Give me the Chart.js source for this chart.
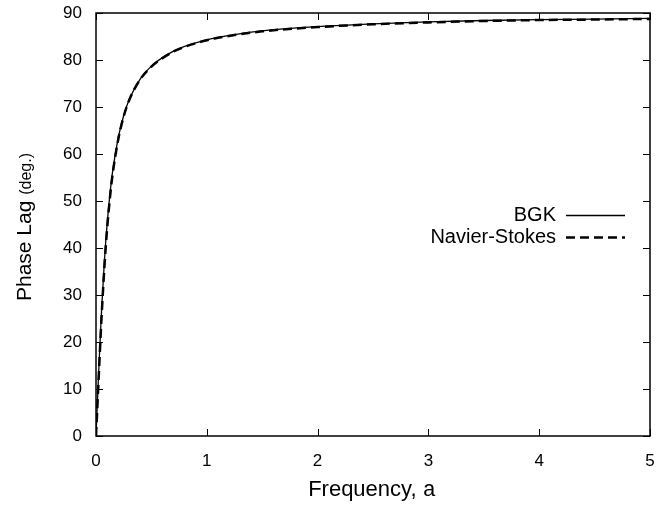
<!DOCTYPE html>
<html>
<head>
<meta charset="UTF-8">
<title>Phase Lag</title>
<script src="https://cdn.jsdelivr.net/npm/chart.js"></script>
<style>
  html, body { margin: 0; padding: 0; background: #fff; }
  #wrap { width: 656px; height: 508px; }
</style>
</head>
<body>
<div id="wrap"><canvas id="myChart"></canvas></div>
<script>
// valores
const frequencia = [0, 0.01, 0.02, 0.03, 0.05, 0.075, 0.1, 0.125, 0.15, 0.2, 0.25, 0.3, 0.4, 0.5, 0.6, 0.7, 0.8, 1.0, 1.25, 1.5, 2, 2.5, 3, 3.5, 4, 4.5, 5];
const faseBGK = [0, 5.7, 11.3, 16.7, 26.6, 36.9, 45, 51.3, 56.3, 63.4, 68.2, 71.6, 76, 78.7, 80.5, 81.9, 82.9, 84.3, 85.4, 86.2, 87.1, 87.7, 88.1, 88.4, 88.6, 88.7, 88.85];
const faseNS = [0, 5.0, 10.2, 15.4, 25.2, 35.6, 44, 50.5, 55.7, 63.0, 68.0, 71.5, 75.9, 78.6, 80.4, 81.8, 82.8, 84.2, 85.3, 86.1, 87.0, 87.6, 88.0, 88.3, 88.5, 88.6, 88.75];
const xTicks = [0, 1, 2, 3, 4, 5];
const yTicks = [0, 10, 20, 30, 40, 50, 60, 70, 80, 90];
const nomes = ['BGK', 'Navier-Stokes'];

const fonte = '"Liberation Sans", Arial, Helvetica, sans-serif';
const mono = '"Liberation Mono", "DejaVu Sans Mono", monospace';

function pontos(ys) {
    return frequencia.map((x, i) => ({ x: x, y: ys[i] }));
}

// moldura, ticks para dentro, titulos dos eixos e legenda
const extras = {
    id: 'extras',
    afterDraw(chart) {
        const ctx = chart.ctx;
        const a = chart.chartArea;
        const sx = chart.scales.x, sy = chart.scales.y;
        ctx.save();
        ctx.strokeStyle = '#000';
        ctx.lineWidth = 1.5;
        ctx.strokeRect(a.left, a.top, a.right - a.left, a.bottom - a.top);
        ctx.lineWidth = 1;
        ctx.beginPath();
        xTicks.forEach(v => {
            const p = Math.round(sx.getPixelForValue(v)) + 0.5;
            ctx.moveTo(p, a.bottom); ctx.lineTo(p, a.bottom - 7);
            ctx.moveTo(p, a.top); ctx.lineTo(p, a.top + 7);
        });
        yTicks.forEach(v => {
            const p = Math.round(sy.getPixelForValue(v)) + 0.5;
            ctx.moveTo(a.left, p); ctx.lineTo(a.left + 7, p);
            ctx.moveTo(a.right, p); ctx.lineTo(a.right - 7, p);
        });
        ctx.stroke();

        // titulo eixo x
        ctx.fillStyle = '#000';
        ctx.textBaseline = 'alphabetic';
        ctx.textAlign = 'left';
        const t1 = 'Frequency, ';
        ctx.font = '22px ' + fonte;
        const w1 = ctx.measureText(t1).width;
        ctx.font = '22px ' + mono;
        const w2 = ctx.measureText('a').width;
        const x0 = 372 - (w1 + w2) / 2;
        ctx.font = '22px ' + fonte;
        ctx.fillText(t1, x0, 496);
        ctx.font = '22px ' + mono;
        ctx.fillText('a', x0 + w1, 496);

        // titulo eixo y
        ctx.translate(31, 227);
        ctx.rotate(-Math.PI / 2);
        ctx.font = '21px ' + fonte;
        const p1 = 'Phase Lag ';
        const q1 = ctx.measureText(p1).width;
        ctx.font = '16px ' + fonte;
        const q2 = ctx.measureText('(deg.)').width;
        const y0 = -(q1 + q2) / 2;
        ctx.font = '21px ' + fonte;
        ctx.fillText(p1, y0, 0);
        ctx.font = '16px ' + fonte;
        ctx.fillText('(deg.)', y0 + q1, 0);
        ctx.restore();

        // legenda
        ctx.save();
        ctx.font = '20px ' + fonte;
        ctx.fillStyle = '#000';
        ctx.textAlign = 'right';
        ctx.textBaseline = 'middle';
        chart.data.datasets.forEach((ds, i) => {
            const yy = 215 + i * 22;
            ctx.fillText(nomes[i], 556, yy);
            ctx.strokeStyle = '#000';
            ctx.lineWidth = ds.borderWidth;
            ctx.setLineDash(ds.borderDash || []);
            ctx.beginPath();
            ctx.moveTo(566, yy + 0.5);
            ctx.lineTo(625, yy + 0.5);
            ctx.stroke();
        });
        ctx.restore();
    }
};

const config = {
    type: 'line',
    data: {
        datasets: [
            {
                label: nomes[0],
                data: pontos(faseBGK),
                borderColor: '#000',
                borderWidth: 1.3,
                pointRadius: 0,
                cubicInterpolationMode: 'monotone',
                fill: false
            },
            {
                label: nomes[1],
                data: pontos(faseNS),
                borderColor: '#000',
                borderWidth: 2.5,
                borderDash: [9, 5],
                pointRadius: 0,
                cubicInterpolationMode: 'monotone',
                fill: false
            }
        ]
    },
    options: {
        responsive: true,
        maintainAspectRatio: false,
        animation: false,
        layout: { padding: { top: 13, right: 6, left: 0, bottom: 0 } },
        plugins: {
            legend: { display: false },
            tooltip: { enabled: false }
        },
        scales: {
            x: {
                type: 'linear',
                min: 0,
                max: 5,
                afterFit(s) { s.height = 72; s.paddingLeft = 0; s.paddingRight = 0; },
                afterBuildTicks(s) { s.ticks = xTicks.map(v => ({ value: v })); },
                grid: { display: false, drawTicks: false },
                border: { display: false },
                ticks: {
                    color: '#000',
                    padding: 15,
                    font: { family: fonte, size: 17 }
                }
            },
            y: {
                type: 'linear',
                min: 0,
                max: 90,
                afterFit(s) { s.width = 96; s.paddingTop = 0; s.paddingBottom = 0; },
                afterBuildTicks(s) { s.ticks = yTicks.map(v => ({ value: v })); },
                grid: { display: false, drawTicks: false },
                border: { display: false },
                ticks: {
                    color: '#000',
                    padding: 14,
                    font: { family: fonte, size: 17 }
                }
            }
        }
    },
    plugins: [extras]
};

new Chart(document.getElementById('myChart'), config);
</script>
</body>
</html>
